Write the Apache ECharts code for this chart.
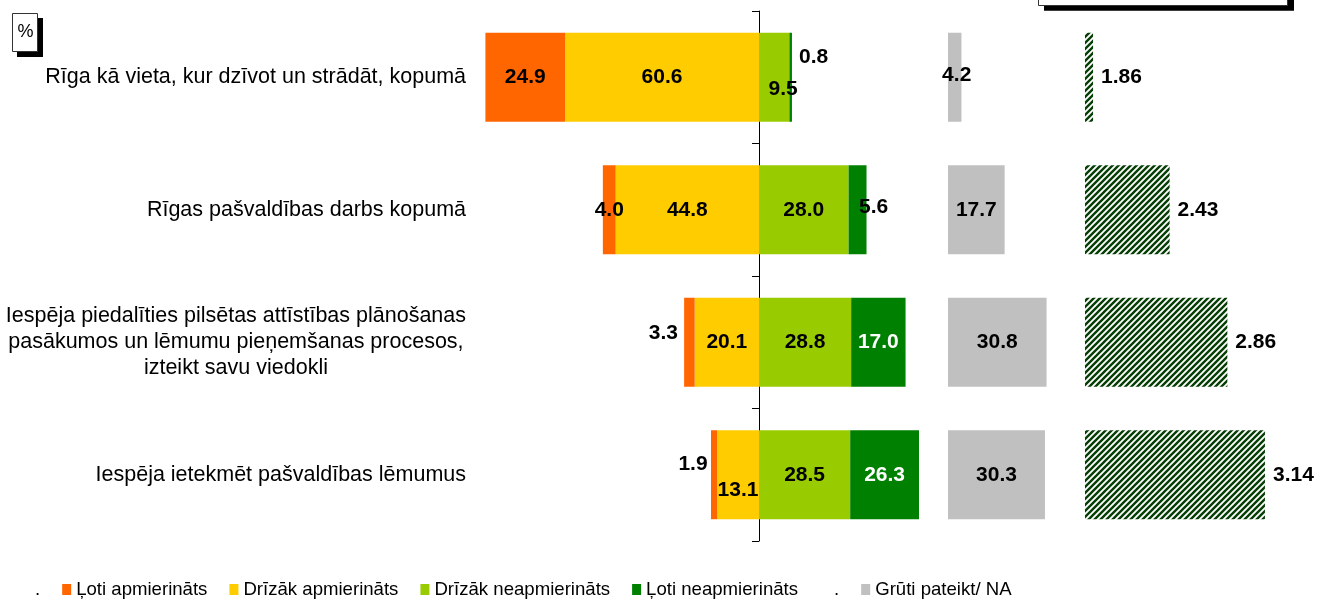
<!DOCTYPE html>
<html>
<head>
<meta charset="utf-8">
<title>Apmierinātība ar Rīgu</title>
<script src="https://cdn.jsdelivr.net/npm/echarts@6/dist/echarts.min.js"></script>
<style>
  html, body { margin: 0; padding: 0; background: #fff; }
  #chart { width: 1319px; height: 599px; }
</style>
</head>
<body>
<div id="chart"></div>
<script>
// Survey questions (one row each)
const categories = [
  'Rīga kā vieta, kur dzīvot un strādāt, kopumā',
  'Rīgas pašvaldības darbs kopumā',
  'Iespēja piedalīties pilsētas attīstības plānošanas\npasākumos un lēmumu pieņemšanas procesos,\nizteikt savu viedokli',
  'Iespēja ietekmēt pašvaldības lēmumus'
];

// Answer shares, %
const veryPositive   = [24.9, 4.0, 3.3, 1.9];
const ratherPositive = [60.6, 44.8, 20.1, 13.1];
const ratherNegative = [9.5, 28.0, 28.8, 28.5];
const veryNegative   = [0.8, 5.6, 17.0, 26.3];
const hardToSay      = [4.2, 17.7, 30.8, 30.3];

// Mean score per question
const meanScore = [1.86, 2.43, 2.86, 3.14];

const seriesNames = [
  'Ļoti apmierināts',
  'Drīzāk apmierināts',
  'Drīzāk neapmierināts',
  'Ļoti neapmierināts',
  'Grūti pateikt/ NA'
];

const FONT = '"Liberation Sans", Arial, sans-serif';
const COLORS = {
  veryPositive: '#ff6600',
  ratherPositive: '#ffcc00',
  ratherNegative: '#99cc00',
  veryNegative: '#008000',
  hardToSay: '#c0c0c0'
};

// A few value labels are moved off their bars so they stay readable
const labelNudges = {
  veryPositive:   { 2: [-26, -9], 3: [-21, -11] },
  ratherPositive: { 3: [0, 15] },
  ratherNegative: { 0: [9, 12] },
  veryNegative:   { 0: [23, -20], 1: [16, -3] },
  hardToSay:      { 0: [2, -2] }
};

// Diagonal stripe tile for the mean-score bars
function stripeTile() {
  const s = 6;
  const c = document.createElement('canvas');
  c.width = s; c.height = s;
  const g = c.getContext('2d');
  g.fillStyle = '#ffffff';
  g.fillRect(0, 0, s, s);
  g.strokeStyle = '#063f06';
  g.lineWidth = 2.4;
  g.beginPath();
  g.moveTo(-2, 2); g.lineTo(2, -2);
  g.moveTo(-1, s + 1); g.lineTo(s + 1, -1);
  g.moveTo(s - 2, s + 2); g.lineTo(s + 2, s - 2);
  g.stroke();
  return c;
}

function buildData(key, values, sign) {
  const nudges = labelNudges[key] || {};
  return values.map((v, i) => {
    const item = { value: sign * v };
    if (nudges[i]) {
      item.label = { offset: nudges[i], color: '#000' };
    }
    return item;
  });
}

const valueLabel = (color) => ({
  show: true,
  position: 'inside',
  fontFamily: FONT,
  fontSize: 21,
  fontWeight: 'bold',
  color: color,
  formatter: p => Math.abs(p.value).toFixed(1)
});

const BAR_W = 89;

function stackedSeries(name, key, values, sign, labelColor) {
  return {
    name: name,
    type: 'bar',
    stack: 'share',
    xAxisIndex: 0,
    yAxisIndex: 0,
    barWidth: BAR_W,
    itemStyle: { color: COLORS[key] },
    label: valueLabel(labelColor),
    data: buildData(key, values, sign)
  };
}

const chart = echarts.init(document.getElementById('chart'), null, { renderer: 'canvas' });

const option = {
  animation: false,
  backgroundColor: '#ffffff',
  grid: [
    { left: 439, top: 11, width: 480, height: 530, outerBoundsMode: 'none', containLabel: false },
    { left: 948, top: 11, width: 128, height: 530, outerBoundsMode: 'none', containLabel: false },
    { left: 1085, top: 11, width: 228.3, height: 530, outerBoundsMode: 'none', containLabel: false }
  ],
  xAxis: [
    { gridIndex: 0, type: 'value', min: -100, max: 50, show: false },
    { gridIndex: 1, type: 'value', min: 0, max: 40, show: false },
    { gridIndex: 2, type: 'value', min: 1.8, max: 3.5, show: false }
  ],
  yAxis: [
    {
      gridIndex: 0,
      type: 'category',
      inverse: true,
      data: categories,
      axisLine: { show: true, onZero: true, lineStyle: { color: '#000', width: 1 } },
      axisTick: { show: true, length: 7, lineStyle: { color: '#000', width: 1 } },
      splitLine: { show: false },
      axisLabel: {
        // question texts end just left of the bars
        margin: -27,
        color: '#000',
        fontFamily: FONT,
        fontSize: 21.5,
        lineHeight: 26,
        align: 'right',
        formatter: v => v.indexOf('\n') < 0
          ? v
          : v.split('\n').map(s => '{c|' + s + '}').join('\n'),
        rich: {
          c: { align: 'center', fontFamily: FONT, fontSize: 21.5, lineHeight: 26, color: '#000' }
        }
      }
    },
    { gridIndex: 1, type: 'category', inverse: true, data: categories, show: false },
    { gridIndex: 2, type: 'category', inverse: true, data: categories, show: false }
  ],
  legend: {
    left: 16,
    top: 575,
    icon: 'rect',
    itemWidth: 9,
    itemHeight: 11,
    itemGap: 22,
    selectedMode: false,
    textStyle: { color: '#000', fontFamily: FONT, fontSize: 18.6 },
    data: ['.', seriesNames[0], seriesNames[1], seriesNames[2], seriesNames[3], '.\u200b', seriesNames[4]]
  },
  graphic: [
    // "%" unit box with drop shadow
    { type: 'rect', shape: { x: 17, y: 18, width: 26, height: 39 }, style: { fill: '#000' } },
    { type: 'rect', shape: { x: 12.5, y: 13.5, width: 25, height: 38 }, style: { fill: '#fff', stroke: '#333', lineWidth: 1 } },
    { type: 'text', x: 25.5, y: 32, style: { text: '%', font: '18px ' + FONT, fill: '#000', align: 'center', verticalAlign: 'middle' } },
    // framed box at the top edge
    { type: 'rect', shape: { x: 1044, y: -25, width: 250, height: 35.7 }, style: { fill: '#000' } },
    { type: 'rect', shape: { x: 1038.5, y: -30, width: 249, height: 35.5 }, style: { fill: '#fff', stroke: '#333', lineWidth: 1 } }
  ],
  series: [
    // left side: satisfied answers, stacked outwards from zero
    stackedSeries(seriesNames[1], 'ratherPositive', ratherPositive, -1, '#000'),
    stackedSeries(seriesNames[0], 'veryPositive', veryPositive, -1, '#000'),
    // right side: dissatisfied answers
    stackedSeries(seriesNames[2], 'ratherNegative', ratherNegative, 1, '#000'),
    stackedSeries(seriesNames[3], 'veryNegative', veryNegative, 1, '#fff'),
    // spacer entries shown as dots in the legend
    { name: '.', type: 'bar', stack: 'share', barWidth: BAR_W, itemStyle: { color: 'rgba(0,0,0,0)' }, data: [] },
    { name: '.\u200b', type: 'bar', stack: 'share', barWidth: BAR_W, itemStyle: { color: 'rgba(0,0,0,0)' }, data: [] },
    // hard to say
    {
      name: seriesNames[4],
      type: 'bar',
      xAxisIndex: 1,
      yAxisIndex: 1,
      barWidth: BAR_W,
      itemStyle: { color: COLORS.hardToSay },
      label: valueLabel('#000'),
      data: buildData('hardToSay', hardToSay, 1)
    },
    // mean score
    {
      name: 'Vidējais vērtējums',
      type: 'bar',
      xAxisIndex: 2,
      yAxisIndex: 2,
      barWidth: BAR_W,
      itemStyle: { color: { image: stripeTile(), repeat: 'repeat' } },
      label: {
        show: true,
        position: 'right',
        distance: 8,
        fontFamily: FONT,
        fontSize: 21,
        fontWeight: 'bold',
        color: '#000',
        formatter: p => p.value.toFixed(2)
      },
      data: meanScore
    }
  ]
};

chart.setOption(option);
</script>
</body>
</html>
